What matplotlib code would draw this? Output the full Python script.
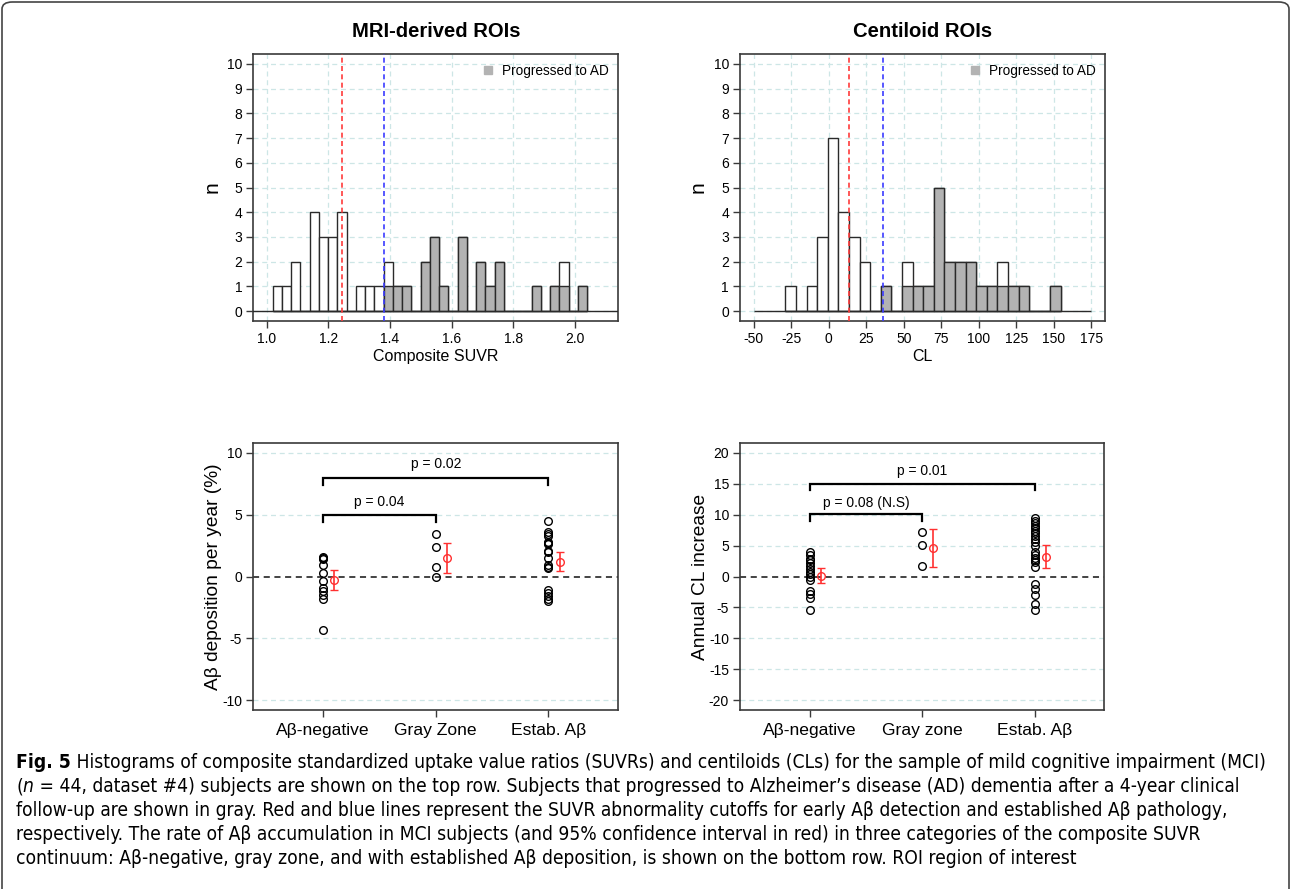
import numpy as np
import matplotlib.pyplot as plt
from matplotlib.patches import FancyBboxPatch

plt.rcParams['font.family'] = ['Liberation Sans', 'DejaVu Sans']
plt.rcParams['axes.unicode_minus'] = False

# ---- top row: histogram counts per bin (all subjects / progressed to AD)
suvr_start, suvr_width = 1.02, 0.03
suvr_total = [1, 1, 2, 0, 4, 3, 3, 4, 0, 1, 1, 1, 2, 1, 1, 0, 2,
              3, 1, 0, 3, 0, 2, 1, 2, 0, 0, 0, 1, 0, 1, 2, 0, 1]
suvr_prog = [0, 0, 0, 0, 0, 0, 0, 0, 0, 0, 0, 0, 1, 1, 1, 0, 2,
             3, 1, 0, 3, 0, 2, 1, 2, 0, 0, 0, 1, 0, 1, 1, 0, 1]
suvr_cutoffs = [1.246, 1.38]

cl_start, cl_width = -28.8, 7.06
cl_total = [1, 0, 1, 3, 7, 4, 3, 2, 0, 1, 0, 2, 1, 1, 5, 2, 2, 2, 1, 1, 2, 1, 1, 0, 0, 1]
cl_prog = [0, 0, 0, 0, 0, 0, 0, 0, 0, 1, 0, 1, 1, 1, 5, 2, 2, 2, 1, 1, 1, 1, 1, 0, 0, 1]
cl_cutoffs = [13.5, 36.0]

# ---- bottom row: annual change per group
suvr_groups = ["Aβ-negative", "Gray Zone", "Estab. Aβ"]
suvr_neg = [1.6, 1.45, 1.5, 0.9, 0.3, -0.4, -0.9, -1.2, -1.5, -1.8, -4.35]
suvr_gray = [3.4, 2.4, 0.8, 0.0]
suvr_estab = [4.5, 3.6, 3.45, 3.3, 2.8, 2.7, 2.6, 2.1, 2.0, 1.5, 0.9, 0.75,
              0.7, -1.1, -1.3, -1.6, -1.8, -2.0]
suvr_mean = [-0.3, 1.5, 1.2]
suvr_lo = [-1.13, 0.3, 0.43]
suvr_hi = [0.54, 2.7, 2.02]
suvr_p = ["p = 0.04", "p = 0.02"]

cl_groups = ["Aβ-negative", "Gray zone", "Estab. Aβ"]
cl_neg = [3.9, 3.4, 2.9, 2.6, 2.2, 1.7, 1.2, 0.8, 0.4, 0.0, -0.5, -2.3, -2.8, -3.5, -5.5]
cl_gray = [7.15, 5.05, 1.77]
cl_estab = [9.4, 9.0, 8.6, 8.2, 7.8, 7.4, 7.0, 6.6, 6.1, 5.6, 5.0, 4.0, 3.5, 3.0,
            2.7, 2.3, 1.6, -1.2, -2.0, -3.0, -4.4, -5.5]
cl_mean = [0.05, 4.68, 3.23]
cl_lo = [-1.1, 1.6, 1.45]
cl_hi = [1.3, 7.7, 5.05]
cl_p = ["p = 0.08 (N.S)", "p = 0.01"]

W, H = 1292, 889
fig = plt.figure(figsize=(W / 100, H / 100), dpi=100)

SPINE = '#3a3a3a'
GRID = '#cde6e6'


def box(x0, y0, x1, y1):
    return [x0 / W, 1 - y1 / H, (x1 - x0) / W, (y1 - y0) / H]


def style(ax):
    for s in ax.spines.values():
        s.set_color(SPINE)
        s.set_linewidth(1.2)
    ax.tick_params(direction='out', length=5, width=1, color=SPINE,
                   labelsize=10, pad=3)


def histogram(ax, start, width, total, prog, cutoffs, xticks, xlim, xlabel, title, zero_span):
    n = len(total)
    lefts = start + width * np.arange(n)
    for v in xticks:
        ax.axvline(v, color=GRID, lw=0.9, ls=(0, (4, 3)), zorder=0)
    for v in range(11):
        ax.axhline(v, color=GRID, lw=0.9, ls=(0, (4, 3)), zorder=0)
    ax.bar(lefts, total, width=width, align='edge', color='white',
           edgecolor='#2a2a2a', linewidth=1.0, zorder=2)
    ax.bar(lefts, prog, width=width, align='edge', color='#b3b3b3',
           edgecolor='#2a2a2a', linewidth=1.0, zorder=3)
    if zero_span is None:
        ax.axhline(0, color='#2a2a2a', lw=1.0, zorder=4)
    else:
        ax.hlines(0, zero_span[0], zero_span[1], color='#2a2a2a', lw=1.0, zorder=4)
    ax.axvline(cutoffs[0], color='#ff3b3b', lw=1.2, ls=(0, (3, 2)), zorder=5)
    ax.axvline(cutoffs[1], color='#3b3bff', lw=1.2, ls=(0, (3, 2)), zorder=5)
    ax.set_xlim(*xlim)
    ax.set_ylim(-0.4, 10.4)
    ax.set_xticks(xticks)
    ax.set_yticks(range(11))
    ax.set_xlabel(xlabel, fontsize=11.5, labelpad=2)
    ax.set_ylabel('n', fontsize=15, labelpad=4)
    ax.set_title(title, fontsize=14.6, fontweight='bold', pad=12)
    ax.plot([], [], 's', color='#b3b3b3', ms=6, label='Progressed to AD')
    ax.legend(loc='upper right', frameon=False, fontsize=9.8, handlelength=0.8,
              handletextpad=0.6, borderaxespad=0.3)
    style(ax)


def dotplot(ax, groups, cols, mean, lo, hi, ylim, yticks, ylabel, brackets, pvals):
    for v in yticks:
        if v != 0:
            ax.axhline(v, color=GRID, lw=0.9, ls=(0, (4, 3)), zorder=0)
    ax.axhline(0, color='#111111', lw=1.1, ls=(0, (4, 3)), zorder=1)
    for i, vals in enumerate(cols):
        ax.plot([i + 1] * len(vals), vals, 'o', mfc='none', mec='black',
                ms=5.5, mew=1.0, zorder=3)
    xs = np.arange(1, 4) + 0.1
    mean = np.array(mean)
    ax.errorbar(xs, mean, yerr=[mean - np.array(lo), np.array(hi) - mean],
                fmt='o', mfc='none', mec='#ff3030', ecolor='#ff3030', ms=5.5,
                mew=1.0, elinewidth=1.2, capsize=3, capthick=1.2, zorder=4)
    # significance brackets (lower: 1-2, upper: 1-3)
    (b1, t1), (b2, t2) = brackets
    for (x2, yb, yt, txt) in [(2, b1, t1, pvals[0]), (3, b2, t2, pvals[1])]:
        drop = (ylim[1] - ylim[0]) * 0.025
        ax.plot([1, 1, x2, x2], [yb - drop, yb, yb, yb - drop], color='black',
                lw=1.6, solid_joinstyle='miter', zorder=4)
        ax.text((1 + x2) / 2, yt, txt, ha='center', va='center', fontsize=10)
    ax.set_xlim(0.38, 3.62)
    ax.set_ylim(*ylim)
    ax.set_xticks([1, 2, 3])
    ax.set_xticklabels(groups)
    ax.set_yticks(yticks)
    ax.set_ylabel(ylabel, fontsize=13.8, labelpad=0)
    style(ax)
    ax.tick_params(axis='x', labelsize=12.6, pad=4)


ax1 = fig.add_axes(box(253.3, 54, 618.3, 321))
histogram(ax1, suvr_start, suvr_width, suvr_total, suvr_prog, suvr_cutoffs,
          [1.0, 1.2, 1.4, 1.6, 1.8, 2.0], (0.957, 2.141), 'Composite SUVR',
          'MRI-derived ROIs', None)
ax1.xaxis.set_major_formatter(plt.FormatStrFormatter('%.1f'))

ax2 = fig.add_axes(box(740, 54, 1105, 321))
histogram(ax2, cl_start, cl_width, cl_total, cl_prog, cl_cutoffs,
          [-50, -25, 0, 25, 50, 75, 100, 125, 150, 175], (-59, 184), 'CL',
          'Centiloid ROIs', (-50, 175))

ax3 = fig.add_axes(box(253.3, 443, 618.3, 710))
dotplot(ax3, suvr_groups, [suvr_neg, suvr_gray, suvr_estab], suvr_mean, suvr_lo,
        suvr_hi, (-10.8, 10.8), [-10, -5, 0, 5, 10], 'Aβ deposition per year (%)',
        [(4.97, 6.0), (7.98, 9.1)], suvr_p)

ax4 = fig.add_axes(box(740, 443, 1104.3, 710))
dotplot(ax4, cl_groups, [cl_neg, cl_gray, cl_estab], cl_mean, cl_lo, cl_hi,
        (-21.6, 21.6), list(range(-20, 21, 5)), 'Annual CL increase',
        [(10.05, 11.9), (15.0, 17.0)], cl_p)

# ---- caption
cap_font = ['DejaVu Sans']
lines = [
    [("Fig. 5", 'bold', 'normal'),
     (" Histograms of composite standardized uptake value ratios (SUVRs) and centiloids (CLs) "
      "for the sample of mild cognitive impairment (MCI)", 'normal', 'normal')],
    [("(", 'normal', 'normal'), ("n", 'normal', 'italic'),
     (" = 44, dataset #4) subjects are shown on the top row. Subjects that progressed to "
      "Alzheimer’s disease (AD) dementia after a 4-year clinical", 'normal', 'normal')],
    [("follow-up are shown in gray. Red and blue lines represent the SUVR abnormality cutoffs "
      "for early Aβ detection and established Aβ pathology,", 'normal', 'normal')],
    [("respectively. The rate of Aβ accumulation in MCI subjects (and 95% confidence interval "
      "in red) in three categories of the composite SUVR", 'normal', 'normal')],
    [("continuum: Aβ-negative, gray zone, and with established Aβ deposition, is shown on the "
      "bottom row. ROI region of interest", 'normal', 'normal')],
]
renderer = fig.canvas.get_renderer()

# size the caption so that the first line spans the same width as in the figure
probe = fig.text(0, 0, "".join(p[0] for p in lines[0]), fontsize=10,
                 family=cap_font, fontstretch='condensed')
cap_size = 10 * 1248 / probe.get_window_extent(renderer).width
probe.remove()

y = 763
for parts in lines:
    x = 16
    for txt, wt, st in parts:
        t = fig.text(x / W, 1 - y / H, txt, fontsize=cap_size, fontweight=wt,
                     fontstyle=st, family=cap_font, fontstretch='condensed',
                     va='center', ha='left')
        x += t.get_window_extent(renderer).width
    y += 23.8

fig.patches.append(FancyBboxPatch((2 / W, -0.05), (W - 5) / W, 1 + 0.05 - 2 / H,
                                  boxstyle='round,pad=0,rounding_size=0.008',
                                  transform=fig.transFigure, fill=False,
                                  edgecolor='#444444', linewidth=1.2))

fig.savefig('out.png', dpi=100)
